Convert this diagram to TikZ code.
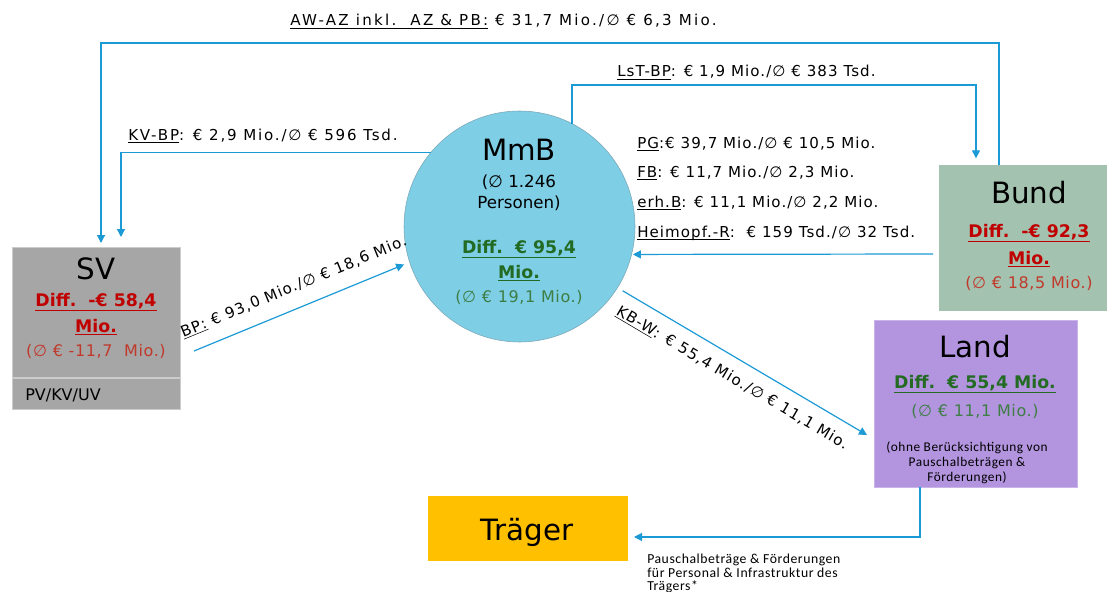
\documentclass[tikz,border=0pt]{standalone}
\usepackage{fontspec}
\setmainfont{DejaVu Sans}
\newfontfamily\lblfont[LetterSpace=7]{DejaVu Sans}
\newfontfamily\widelblfont[LetterSpace=12]{DejaVu Sans}
\newfontfamily\widestlblfont[LetterSpace=15]{DejaVu Sans}
\newfontfamily\avgfont[LetterSpace=4]{DejaVu Sans}
\newfontfamily\calfont[LetterSpace=4]{Carlito}
\usetikzlibrary{arrows.meta,calc}

\definecolor{flowblue}{HTML}{1B9AD6}
\definecolor{svgray}{HTML}{A6A6A6}
\definecolor{bundgreen}{HTML}{A3C2AF}
\definecolor{landlila}{HTML}{B294DF}
\definecolor{traegergelb}{HTML}{FFC000}
\definecolor{mmbblau}{HTML}{7ECEE6}
\definecolor{minusrot}{HTML}{C00000}
\definecolor{minushell}{HTML}{C0392B}
\definecolor{plusgruen}{HTML}{236B23}
\definecolor{plushell}{HTML}{3E7E45}

% underline sitting on the baseline, independent of descenders
\newcommand{\ulbase}[1]{\underline{\smash{#1}}}

\begin{document}
\begin{tikzpicture}[x=0.75pt,y=-0.75pt,
  flowline/.style={draw=flowblue,line width=0.9pt},
  flowarrow/.style={flowline,-{Triangle[length=6pt,width=6pt]}},
  block/.style={inner sep=0pt,outer sep=0pt,rectangle},
  lbl/.style={inner sep=0pt,anchor=base west,font=\lblfont\fontsize{11.3}{13}\selectfont},
  title/.style={inner sep=0pt,anchor=base,font=\fontsize{22}{26}\selectfont},
  diffneg/.style={inner sep=0pt,anchor=base,text=minusrot,font=\fontsize{13}{16}\selectfont\bfseries},
  diffpos/.style={inner sep=0pt,anchor=base,text=plusgruen,font=\fontsize{13}{16}\selectfont\bfseries},
  avgneg/.style={inner sep=0pt,anchor=base,text=minushell,font=\avgfont\fontsize{12}{14}\selectfont},
  avgpos/.style={inner sep=0pt,anchor=base,text=plushell,font=\avgfont\fontsize{12}{14}\selectfont},
  smalltxt/.style={inner sep=0pt,anchor=base,font=\calfont\fontsize{10}{11}\selectfont},
  notetxt/.style={inner sep=0pt,anchor=base west,font=\calfont\fontsize{10.3}{11}\selectfont}]

\useasboundingbox (0,0) rectangle (1107,592);

% ---------- blocks ----------
\node[block,fill=svgray,draw=black!20,minimum width=126pt,minimum height=121.5pt] (sv) at (96,328) {};
\node[block,fill=bundgreen,minimum width=126pt,minimum height=109.5pt] (bund) at (1023,238) {};
\node[block,fill=landlila,draw=landlila!70!white,minimum width=152.25pt,minimum height=125.25pt] (land) at (975.5,403.5) {};
\node[block,fill=traegergelb,minimum width=150pt,minimum height=48.75pt] (traeger) at (528,528.5) {};
\node[circle,inner sep=0pt,outer sep=0pt,fill=mmbblau,draw=mmbblau!70!black!80,line width=0.4pt,minimum size=173.25pt] (mmb) at (519.5,226.5) {};

% divider inside SV
\coordinate (svdiv) at (0,378);
\draw[black!20,line width=0.8pt] (sv.west |- svdiv) -- (sv.east |- svdiv);

% ---------- block texts ----------
\node[title] (svT) at (96,279) {SV};
\node[diffneg] (svD) at (96,306) {\underline{Diff.\ \ -€ 58,4}};
\node[diffneg] (svM) at (96,332) {\underline{Mio.}};
\node[avgneg] (svA) at (96,356) {(∅ € -11,7\ \ Mio.)};
\node[inner sep=0pt,anchor=base west,font=\fontsize{12}{14}\selectfont] (svP) at (25,400) {PV/KV/UV};

\node[title] (mmbT) at (519,161) {MmB};
\node[inner sep=0pt,anchor=base,font=\fontsize{12.5}{15}\selectfont] (mmbP1) at (519,187) {(∅ 1.246};
\node[inner sep=0pt,anchor=base,font=\fontsize{12.5}{15}\selectfont] (mmbP2) at (519,208) {Personen)};
\node[diffpos] (mmbD) at (519,253) {\underline{Diff.\ \ € 95,4}};
\node[diffpos] (mmbM) at (519,278) {\underline{Mio.}};
\node[avgpos] (mmbA) at (519,302) {(∅ € 19,1 Mio.)};

\node[title] (bundT) at (1029,203) {Bund};
\node[diffneg] (bundD) at (1029,237) {\underline{Diff.\ \ -€ 92,3}};
\node[diffneg] (bundM) at (1029,264) {\underline{Mio.}};
\node[avgneg] (bundA) at (1029,288) {(∅ € 18,5 Mio.)};

\node[title] (landT) at (975,357) {Land};
\node[diffpos] (landD) at (975,388) {\underline{Diff.\ \ € 55,4 Mio.}};
\node[avgpos] (landA) at (975,416) {(∅ € 11,1 Mio.)};
\node[smalltxt] (landS1) at (967,451) {(ohne Berücksichtigung von};
\node[smalltxt] (landS2) at (967,466) {Pauschalbeträgen \&};
\node[smalltxt] (landS3) at (967,481) {Förderungen)};

\node[title] (traegerT) at (527,540) {Träger};

% ---------- connectors ----------
% AW-AZ: Bund -> SV (outer frame)
\coordinate (awR) at (999,43);
\coordinate (awL) at (101,43);
\draw[flowarrow,shorten >=3pt] (bund.north -| awR) -- (awR) -- (awL) -- (awL |- sv.north);
\node[lbl,font=\widestlblfont\fontsize{11.3}{13}\selectfont] (awLbl) at (290,26) {\ulbase{AW-AZ inkl.\ \ AZ \& PB:} € 31,7 Mio./∅ € 6,3 Mio.};

% LsT-BP: MmB -> Bund
\coordinate (lstR) at (976,85);
\draw[flowarrow,shorten >=5pt] (mmb.63) |- (lstR) -- (lstR |- bund.north);
\node[lbl] (lstLbl) at (617,77) {\ulbase{LsT-BP}: € 1,9 Mio./∅ € 383 Tsd.};

% KV-BP: MmB -> SV
\coordinate (kvL) at (121,152);
\draw[flowarrow,shorten >=7.5pt] (mmb.140) -- (mmb.140 -| kvL) -- (kvL |- sv.north);
\node[lbl,font=\widelblfont\fontsize{11.3}{13}\selectfont] (kvLbl) at (128,140) {\ulbase{KV-BP}: € 2,9 Mio./∅ € 596 Tsd.};

% Bund -> MmB
\coordinate (bundOut) at (933,254);
\draw[flowarrow,shorten >=1pt] (bundOut) -- (mmb.-14);
\node[lbl] (pgLbl) at (637,148) {\ulbase{PG}:€ 39,7 Mio./∅ € 10,5 Mio.};
\node[lbl] (fbLbl) at (637,177) {\ulbase{FB}: € 11,7 Mio./∅ 2,3 Mio.};
\node[lbl] (ebLbl) at (637,207) {\ulbase{erh.B}: € 11,1 Mio./∅ 2,2 Mio.};
\node[lbl] (hrLbl) at (637,237) {\ulbase{Heimopf.-R}:\ \ € 159 Tsd./∅ 32 Tsd.};

% BP: SV -> MmB
\coordinate (bpStart) at (194,351);
\draw[flowarrow,shorten >=4.5pt] (bpStart) -- node[sloped,above=10pt,inner sep=0pt,font=\lblfont\fontsize{11.3}{13}\selectfont] (bpLbl) {\ulbase{BP:} € 93,0 Mio./∅ € 18,6 Mio.} (mmb.198);

% KB-W: MmB -> Land
\coordinate (kbEnd) at ($(land.south west)+(-7,-52)$);
\draw[flowarrow,shorten <=4.5pt] (mmb.-32.6) -- node[sloped,below=9pt,inner sep=0pt,font=\lblfont\fontsize{11.3}{13}\selectfont] (kbLbl) {\ulbase{KB-W}: € 55,4 Mio./∅ € 11,1 Mio.} (kbEnd);

% Land -> Träger
\coordinate (ltBend) at (920,537);
\draw[flowarrow,shorten >=4.5pt] (land.south -| ltBend) -- (ltBend) -- (traeger.east |- ltBend);
\node[notetxt] (ltLbl1) at (647,563) {Pauschalbeträge \& Förderungen};
\node[notetxt] (ltLbl2) at (647,577) {für Personal \& Infrastruktur des};
\node[notetxt] (ltLbl3) at (647,590) {Trägers*};

\end{tikzpicture}
\end{document}
